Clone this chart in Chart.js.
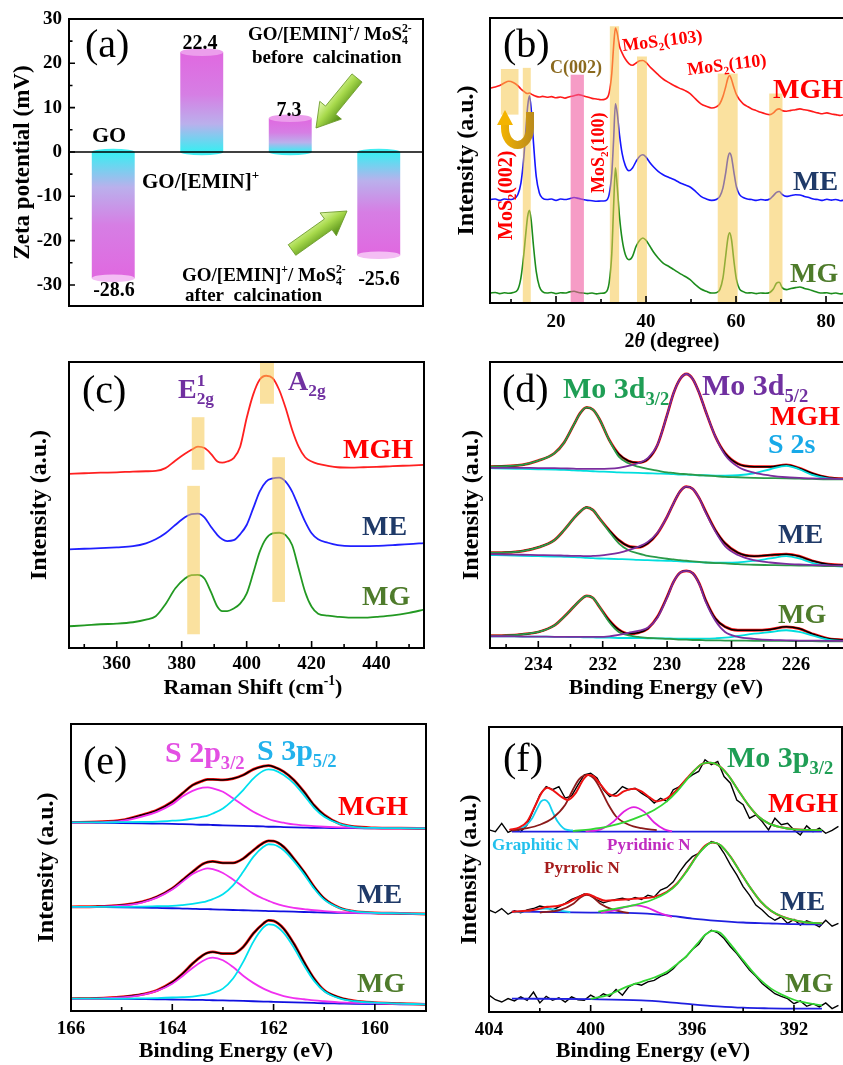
<!DOCTYPE html>
<html>
<head>
<meta charset="utf-8">
<title>Zeta potential, XRD, Raman and XPS of MGH / ME / MG</title>
<script src="https://cdn.jsdelivr.net/npm/chart.js@4.4.1/dist/chart.umd.min.js"></script>
<style>
  html, body { margin: 0; padding: 0; background: #fff; }
  body { position: relative; width: 843px; height: 1065px; overflow: hidden; }
  canvas { position: absolute; }
</style>
</head>
<body>
<canvas id="panelA"></canvas>
<canvas id="panelB"></canvas>
<canvas id="panelC"></canvas>
<canvas id="panelD"></canvas>
<canvas id="panelE"></canvas>
<canvas id="panelF"></canvas>
<script>
// ---------- (a) zeta potential ----------
const zetaCats = ['GO', 'GO/[EMIN]+', 'GO/[EMIN]+/MoS4 2- before calcination', 'GO/[EMIN]+/MoS4 2- after calcination'];
const zetaVals = [-28.5, 22.5, 7.6, -23.3];
const zetaText = ['-28.6', '22.4', '7.3', '-25.6'];
const zetaTicks = [-30, -20, -10, 0, 10, 20, 30];
const zetaMinor = [-25, -15, -5, 5, 15, 25];

// ---------- (b) XRD ----------
const xrdX = [5.4, 6.5, 7.5, 8.5, 9.5, 10.5, 11.5, 12.2, 12.8, 13.3,
  13.7, 14.1, 14.5, 15.0, 15.6, 16.3, 17.0, 18, 19, 20,
  21, 22, 23, 24, 25, 26, 27, 28, 29, 30,
  31, 31.8, 32.4, 32.8, 33.2, 33.6, 34.1, 34.7, 35.4, 36.2,
  37.0, 37.8, 38.6, 39.3, 40.0, 40.8, 41.7, 42.7, 43.8, 45,
  46.2, 47.4, 48.6, 49.8, 51, 52.2, 53.4, 54.6, 55.6, 56.4,
  57.1, 57.7, 58.2, 58.6, 59.0, 59.5, 60.1, 60.8, 61.6, 62.5,
  63.5, 64.5, 65.5, 66.5, 67.5, 68.3, 69.0, 69.6, 70.3, 71.2,
  72.2, 73.2, 74.2, 75.2, 76.2, 77.2, 78.2, 79.2, 80.2, 81.2,
  82.2, 83.2, 84.2, 85.3];
const xrdMGH = [75.4, 75.8, 76.3, 77.2, 77.8, 77.4, 76.3, 75.1, 74.3, 73.7,
  73.5, 73.7, 73.3, 72.9, 72.5, 72.3, 72.5, 72.2, 72.4, 72.0,
  72.3, 71.9, 72.4, 72.7, 73.1, 72.7, 72.3, 71.8, 71.6, 71.3,
  71.6, 73.7, 80.7, 90.1, 96.5, 94.7, 90.1, 87.7, 85.6, 84.0,
  83.4, 84.2, 85.0, 85.1, 84.4, 83.0, 81.6, 80.1, 78.6, 77.4,
  76.3, 75.4, 74.6, 73.5, 71.6, 69.9, 69.0, 68.4, 68.8, 69.9,
  72.5, 75.8, 78.9, 79.8, 78.4, 75.8, 73.1, 71.3, 69.9, 69.0,
  68.1, 67.5, 66.9, 66.4, 66.1, 66.7, 67.8, 68.1, 67.5, 67.3,
  67.6, 67.8, 68.1, 67.8, 67.5, 67.1, 66.7, 66.4, 66.7, 66.3,
  66.1, 65.8, 66.1, 65.7];
const xrdME = [36.3, 36.5, 36.0, 36.5, 36.3, 36.5, 38.0, 42.1, 50.3, 60.8,
  69.0, 72.7, 67.8, 56.1, 44.4, 38.6, 36.8, 36.3, 36.5, 36.0,
  36.5, 36.3, 36.6, 37.0, 36.7, 36.3, 36.0, 35.9, 35.7, 35.8,
  35.9, 38.0, 45.6, 57.3, 69.9, 66.7, 59.1, 52.4, 48.2, 46.4,
  47.4, 49.7, 51.5, 52.0, 51.2, 49.4, 47.7, 46.2, 45.0, 44.1,
  43.3, 42.3, 41.5, 40.7, 39.2, 37.4, 36.5, 36.0, 36.3, 37.4,
  40.4, 45.6, 50.9, 52.6, 51.2, 46.2, 40.7, 38.0, 37.0, 36.5,
  36.3, 36.0, 36.3, 36.1, 36.5, 37.7, 38.8, 39.1, 38.0, 37.4,
  37.7, 38.0, 37.9, 37.4, 37.0, 36.5, 36.3, 36.0, 36.4, 36.1,
  36.3, 35.9, 36.1, 36.0];
const xrdMG = [3.5, 3.7, 3.3, 3.6, 3.4, 3.7, 4.7, 8.8, 16.4, 24.6,
  30.4, 32.5, 28.7, 19.9, 11.1, 5.8, 4.0, 3.5, 3.7, 3.3,
  3.6, 3.5, 3.9, 4.1, 3.7, 3.5, 3.3, 3.5, 3.2, 3.4,
  3.7, 7.0, 17.5, 33.9, 47.4, 40.9, 30.4, 22.2, 17.0, 15.2,
  16.4, 19.9, 22.0, 22.8, 22.0, 20.1, 17.8, 15.8, 14.0, 12.9,
  11.7, 10.5, 9.4, 8.2, 6.4, 4.9, 4.1, 3.5, 3.6, 4.7,
  8.8, 16.4, 22.8, 24.6, 22.2, 15.2, 8.2, 4.9, 4.0, 3.5,
  3.6, 3.3, 3.5, 3.4, 3.7, 4.9, 7.0, 7.3, 5.3, 4.7,
  5.1, 5.4, 5.6, 5.1, 4.7, 4.2, 3.7, 3.5, 3.6, 3.3,
  3.5, 3.2, 3.4, 3.3];
const xrdBands = [[7.75, 11.66, 66.1, 82.1], [12.62, 14.39, 0, 82.5], [31.96, 34.02, 0, 97.1],
  [38.0, 40.2, 0, 86.5], [55.94, 60.37, 0, 80.5], [67.38, 70.33, 0, 73.5]];
const xrdPink = [[23.25, 26.2, 0, 80.1]];

// ---------- (c) Raman ----------
const ramanX = [345.3, 350, 355, 360, 365, 369, 372, 375, 378, 381,
  383, 385, 387, 389, 391, 392.5, 394, 396, 398, 400,
  402, 404, 406, 408, 410, 412, 414, 416, 418, 420,
  422, 425, 428, 432, 436, 440, 445, 450, 454.6];
const ramanMGH = [60.9, 61.1, 61.3, 61.4, 61.7, 61.8, 61.9, 62.9, 65.5, 67.9,
  69.3, 70.4, 69.9, 67.9, 65.2, 64.8, 65.2, 66.4, 70.4, 80.4,
  88.6, 93.8, 95.2, 94.4, 90.3, 83.9, 76.3, 70.4, 66.7, 65.2,
  64.4, 63.7, 63.2, 63.1, 63.2, 63.3, 63.6, 63.8, 64.0];
const ramanME = [34.5, 34.7, 34.9, 35.2, 35.6, 36.6, 38.0, 40.1, 43.0, 45.7,
  46.8, 47.0, 45.7, 42.4, 39.5, 38.0, 37.4, 37.7, 39.8, 43.0,
  48.8, 54.7, 58.2, 59.3, 59.6, 58.2, 54.7, 49.4, 44.2, 40.1,
  38.0, 36.8, 36.0, 35.6, 35.6, 35.7, 36.0, 36.3, 36.7];
const ramanMG = [7.6, 7.9, 8.3, 8.5, 9.0, 9.9, 11.1, 15.3, 20.8, 24.3,
  25.5, 25.6, 24.3, 19.6, 14.4, 12.9, 12.9, 13.8, 15.5, 19.0,
  26.1, 33.6, 38.3, 40.1, 40.3, 39.5, 36.0, 27.8, 19.6, 14.4,
  12.0, 11.3, 10.9, 10.6, 10.6, 10.9, 11.4, 12.3, 13.4];
const ramanBands = [[383.1, 387.0, 62.3, 80.7], [381.7, 385.6, 4.8, 56.7], [404.1, 408.4, 85.4, 100], [407.9, 411.8, 16.1, 66.7]];

// ---------- (d) Mo 3d XPS ----------
const moX = [235.5, 235, 234.5, 234, 233.5, 233.2, 232.9, 232.7, 232.5, 232.3,
  232.1, 231.8, 231.5, 231.2, 230.9, 230.6, 230.3, 230.0, 229.8, 229.6,
  229.4, 229.2, 229.0, 228.8, 228.5, 228.2, 227.8, 227.3, 226.8, 226.3,
  225.9, 225.5, 225.0, 224.3];
const moMGH = [63.4, 63.6, 64.0, 65.5, 68.1, 71.8, 78.0, 82.1, 84.1, 83.3,
  80.0, 72.8, 67.8, 65.4, 64.8, 66.0, 71.0, 81.5, 89.1, 94.0,
  95.8, 94.0, 89.1, 82.7, 73.9, 68.1, 64.4, 63.4, 63.4, 64.0,
  62.9, 61.1, 59.6, 59.1];
const moMGH32 = [63.4, 63.6, 64.0, 65.5, 68.1, 71.8, 78.0, 82.1, 84.1, 83.3,
  80.0, 72.8, 66.9, 64.6, 63.4, 62.6, 62.0, 61.4, 61.2, 60.9,
  60.8, 60.6, 60.4, 60.3, 60.1, 59.8, 59.7, 59.5, 59.4, 59.3,
  59.2, 59.1, 59.0, 59.0];
const moMGH52 = [63.0, 63.0, 63.0, 62.9, 62.9, 62.8, 62.7, 62.6, 62.6, 62.6,
  62.6, 62.7, 63.0, 63.7, 64.6, 66.4, 71.0, 81.5, 89.1, 94.0,
  95.8, 94.0, 89.1, 82.7, 73.9, 67.5, 63.4, 61.3, 60.3, 59.7,
  59.5, 59.3, 59.2, 59.0];
const moMGHs = [62.9, 62.7, 62.6, 62.5, 62.4, 62.3, 62.1, 62.0, 61.9, 61.8,
  61.7, 61.6, 61.4, 61.3, 61.2, 61.1, 61.0, 60.9, 60.8, 60.6,
  60.6, 60.5, 60.4, 60.4, 60.3, 60.3, 60.4, 61.1, 62.5, 63.7,
  62.5, 60.5, 59.3, 59.0];
const moME = [33.3, 33.4, 33.9, 35.2, 37.7, 41.2, 45.3, 47.7, 49.2, 48.2,
  45.3, 41.2, 37.7, 35.6, 35.2, 36.6, 40.1, 45.9, 50.6, 54.7,
  56.4, 55.6, 52.3, 47.7, 41.2, 36.6, 33.3, 32.1, 32.5, 32.8,
  32.1, 30.5, 29.3, 28.9];
const moME32 = [33.3, 33.4, 33.9, 35.2, 37.7, 41.2, 45.3, 47.7, 49.2, 48.2,
  45.3, 40.7, 36.6, 34.2, 33.1, 32.2, 31.7, 31.2, 31.0, 30.7,
  30.5, 30.3, 30.1, 29.9, 29.7, 29.6, 29.3, 29.1, 29.0, 28.9,
  28.8, 28.8, 28.6, 28.6];
const moME52 = [32.8, 32.7, 32.6, 32.5, 32.4, 32.3, 32.2, 32.2, 32.1, 32.2,
  32.3, 32.7, 33.3, 34.2, 35.4, 37.1, 40.3, 45.9, 50.6, 54.7,
  56.4, 55.6, 52.3, 47.3, 40.7, 35.6, 32.5, 30.7, 29.9, 29.4,
  29.2, 29.0, 28.9, 28.7];
const moMEs = [32.5, 32.4, 32.2, 32.1, 32.0, 31.9, 31.8, 31.7, 31.5, 31.4,
  31.3, 31.2, 31.1, 31.0, 30.8, 30.7, 30.6, 30.5, 30.4, 30.3,
  30.2, 30.1, 30.0, 29.9, 29.8, 29.8, 29.9, 30.5, 31.3, 32.1,
  31.3, 29.8, 28.8, 28.4];
const moMG = [4.3, 4.4, 4.8, 5.6, 7.9, 10.9, 14.4, 16.7, 18.2, 17.5,
  14.4, 9.7, 6.4, 5.0, 5.3, 6.8, 10.9, 17.9, 23.1, 26.3,
  27.0, 26.1, 22.5, 16.7, 10.3, 7.4, 6.2, 6.2, 6.5, 7.4,
  6.8, 5.0, 3.3, 2.7];
const moMG32 = [4.3, 4.4, 4.8, 5.6, 7.9, 10.9, 14.4, 16.7, 18.2, 17.5,
  14.4, 9.1, 5.6, 4.4, 3.9, 3.5, 3.4, 3.2, 3.1, 2.9,
  2.9, 2.8, 2.8, 2.7, 2.7, 2.6, 2.6, 2.5, 2.5, 2.5,
  2.4, 2.4, 2.3, 2.3];
const moMG52 = [4.1, 4.1, 4.0, 4.0, 3.9, 3.9, 3.9, 3.9, 3.9, 3.9,
  3.9, 4.1, 4.6, 5.3, 6.0, 7.1, 10.6, 17.6, 23.1, 26.3,
  27.0, 26.1, 22.3, 16.1, 9.5, 5.6, 3.9, 3.2, 2.8, 2.7,
  2.6, 2.6, 2.5, 2.5];
const moMGs = [4.1, 4.1, 4.0, 4.0, 3.9, 3.9, 3.8, 3.8, 3.7, 3.7,
  3.6, 3.6, 3.5, 3.5, 3.5, 3.4, 3.4, 3.4, 3.3, 3.3,
  3.3, 3.3, 3.3, 3.3, 3.4, 3.6, 4.2, 5.0, 5.6, 6.2,
  5.6, 4.4, 2.9, 2.3];

// ---------- (e) S 2p XPS ----------
const sX = [166, 165.5, 165, 164.6, 164.3, 164, 163.8, 163.6, 163.4, 163.3,
  163.2, 163.0, 162.8, 162.6, 162.4, 162.2, 162.1, 162.0, 161.8, 161.6,
  161.4, 161.2, 161.0, 160.7, 160.4, 160, 159.5, 159];
const sMGH = [65.7, 65.9, 66.5, 68.3, 70.0, 72.9, 75.8, 78.7, 80.2, 80.7,
  80.7, 80.5, 81.0, 82.2, 84.2, 85.3, 85.5, 85.1, 83.4, 80.5,
  76.4, 71.7, 68.3, 65.3, 64.2, 63.8, 63.7, 63.6];
const sMGH2p = [65.6, 65.7, 66.2, 67.7, 69.4, 72.0, 74.7, 76.7, 77.8, 77.9,
  77.6, 76.4, 74.1, 71.7, 69.4, 67.7, 66.9, 66.3, 65.6, 65.0,
  64.7, 64.4, 64.2, 64.0, 63.9, 63.7, 63.6, 63.6];
const sMGH3p = [65.7, 65.7, 65.8, 65.9, 66.0, 66.3, 66.5, 67.0, 67.7, 68.1,
  68.8, 70.6, 73.5, 77.0, 81.0, 83.7, 84.2, 84.0, 82.2, 79.3,
  75.2, 70.8, 67.7, 65.2, 64.1, 63.8, 63.7, 63.6];
const sMGHbg = [65.7, 65.6, 65.5, 65.4, 65.3, 65.2, 65.1, 65.0, 64.9, 64.9,
  64.8, 64.7, 64.6, 64.5, 64.4, 64.3, 64.2, 64.2, 64.1, 64.0,
  63.9, 63.8, 63.8, 63.7, 63.7, 63.6, 63.6, 63.6];
const sME = [36.3, 36.4, 36.9, 38.0, 39.8, 42.7, 45.6, 48.5, 51.2, 51.9,
  52.1, 51.6, 51.6, 53.1, 56.0, 58.6, 59.3, 59.2, 57.2, 53.1,
  48.5, 43.3, 39.2, 36.0, 34.7, 34.2, 34.0, 33.8];
const sME2p = [36.2, 36.3, 36.7, 37.8, 39.5, 42.3, 45.0, 47.7, 49.3, 49.7,
  49.4, 48.1, 45.8, 43.3, 40.9, 39.1, 38.4, 37.7, 36.6, 35.9,
  35.5, 35.1, 34.8, 34.4, 34.2, 34.1, 34.0, 33.8];
const sME3p = [36.3, 36.3, 36.3, 36.4, 36.5, 36.6, 36.9, 37.3, 37.9, 38.4,
  39.0, 40.7, 43.8, 48.5, 53.7, 57.2, 58.1, 58.0, 56.0, 52.2,
  47.7, 42.7, 38.8, 35.9, 34.7, 34.2, 34.0, 33.8];
const sMEbg = [36.3, 36.2, 36.1, 36.0, 35.9, 35.8, 35.7, 35.6, 35.5, 35.5,
  35.4, 35.3, 35.2, 35.1, 35.0, 34.9, 34.8, 34.8, 34.7, 34.6,
  34.5, 34.4, 34.3, 34.2, 34.1, 34.0, 33.9, 33.8];
const sMG = [4.3, 4.4, 4.9, 5.8, 7.2, 10.1, 13.0, 16.5, 19.4, 20.3,
  20.6, 20.0, 20.0, 22.3, 27.0, 30.5, 31.6, 31.4, 28.7, 23.5,
  17.1, 11.3, 7.2, 4.7, 3.5, 2.9, 2.6, 2.3];
const sMG2p = [4.2, 4.3, 4.7, 5.6, 7.0, 9.5, 12.1, 15.0, 17.4, 18.3,
  18.6, 17.7, 15.3, 12.3, 9.8, 7.8, 7.0, 6.3, 5.2, 4.5,
  4.1, 3.7, 3.4, 3.0, 2.8, 2.7, 2.5, 2.4];
const sMG3p = [4.3, 4.3, 4.3, 4.4, 4.5, 4.7, 4.8, 5.0, 5.5, 5.8,
  6.3, 7.8, 11.3, 17.1, 24.1, 29.1, 30.2, 30.0, 27.2, 22.1,
  15.9, 10.5, 6.9, 4.4, 3.4, 2.9, 2.6, 2.3];
const sMGbg = [4.3, 4.25, 4.2, 4.15, 4.1, 4.0, 3.95, 3.9, 3.85, 3.8,
  3.75, 3.7, 3.6, 3.5, 3.4, 3.3, 3.25, 3.2, 3.1, 3.0,
  2.9, 2.8, 2.7, 2.6, 2.5, 2.4, 2.35, 2.3];

// ---------- (f) N 1s / Mo 3p XPS ----------
const nX = [404, 403.75, 403.5, 403.25, 403, 402.75, 402.5, 402.25, 402, 401.75,
  401.5, 401.25, 401, 400.75, 400.5, 400.25, 400, 399.75, 399.5, 399.25,
  399, 398.75, 398.5, 398.25, 398, 397.75, 397.5, 397.25, 397, 396.75,
  396.5, 396.25, 396, 395.75, 395.5, 395.25, 395, 394.75, 394.5, 394.25,
  394, 393.75, 393.5, 393.25, 393, 392.75, 392.5, 392.25, 392, 391.75,
  391.5, 391.25, 391, 390.75, 390.5, 390.25];
const nMGH = [63.9, 63.3, 66.2, 63.0, 64.1, 63.3, 65.7, 70.9, 76.2, 79.1,
  78.0, 79.1, 75.0, 75.8, 79.7, 83.2, 83.8, 82.1, 78.0, 75.6,
  76.8, 79.1, 78.0, 78.5, 76.8, 75.4, 73.3, 75.0, 73.9, 78.0,
  79.1, 81.5, 83.2, 84.4, 88.5, 86.8, 87.9, 82.6, 80.3, 74.4,
  72.7, 68.0, 69.2, 66.8, 63.9, 68.0, 65.7, 66.2, 63.9, 62.1,
  65.3, 63.3, 64.5, 62.7, 63.7, 65.1];
const nME = [35.8, 34.8, 36.3, 34.3, 35.5, 34.8, 35.8, 36.3, 37.2, 36.7,
  35.8, 36.9, 38.1, 39.5, 40.4, 41.4, 41.0, 39.3, 38.3, 39.0,
  39.5, 39.9, 39.3, 40.2, 39.5, 41.0, 40.4, 42.8, 43.7, 45.7,
  49.2, 52.2, 54.5, 55.7, 58.0, 59.8, 59.0, 55.7, 51.6, 48.1,
  44.0, 41.0, 37.5, 35.8, 33.6, 32.2, 33.4, 31.1, 32.5, 30.5,
  32.0, 31.1, 29.9, 32.2, 30.1, 31.1];
const nMG = [5.9, 4.3, 3.5, 4.7, 3.9, 5.3, 4.1, 7.0, 3.2, 5.5,
  4.1, 5.0, 3.5, 5.3, 4.3, 4.1, 5.9, 4.7, 6.4, 5.5,
  7.9, 5.9, 8.8, 10.0, 9.4, 10.6, 11.1, 12.5, 13.5, 15.2,
  17.6, 19.3, 21.9, 23.8, 27.0, 28.7, 27.8, 25.8, 22.9, 20.5,
  17.6, 14.7, 12.5, 10.0, 8.2, 6.4, 5.5, 4.7, 2.9, 3.9,
  2.0, 2.9, 1.8, 3.2, 1.2, 2.3];
const nFitMGHx = [403.2, 402.8, 402.5, 402.2, 401.9, 401.7, 401.5, 401.2, 400.9, 400.6,
  400.3, 400.1, 399.9, 399.6, 399.3, 399.0, 398.7, 398.3, 398.0, 397.7,
  397.4, 397.0, 396.6, 396.2, 395.9, 395.6, 395.3, 395.0, 394.6, 394.2,
  393.8, 393.4, 393.0, 392.5, 392.0, 391.5, 391.0];
const nFitMGH = [63.9, 64.8, 66.8, 72.0, 77.3, 78.7, 77.9, 75.8, 74.4, 76.7,
  81.4, 83.2, 82.8, 79.7, 76.6, 75.8, 77.4, 78.3, 77.4, 75.4,
  73.9, 75.0, 78.0, 82.1, 84.9, 87.1, 87.5, 86.7, 83.2, 77.9,
  72.7, 68.6, 66.2, 64.8, 64.1, 63.9, 63.8];
const nGraMGHx = [403.0, 402.6, 402.3, 402.1, 401.95, 401.8, 401.65, 401.5, 401.3, 401.0, 400.7];
const nGraMGH = [63.7, 65.1, 68.0, 71.5, 73.9, 74.4, 73.3, 70.3, 66.8, 64.1, 63.7];
const nPyrMGHx = [403.1, 402.5, 402.0, 401.5, 401.0, 400.7, 400.45, 400.15, 399.85, 399.6, 399.3, 399.0, 398.5, 398.0, 397.4];
const nPyrMGH = [63.7, 64.5, 65.7, 68.0, 72.7, 78.0, 81.7, 83.2, 81.7, 78.0, 72.7, 68.6, 65.7, 64.5, 63.8];
const nPydMGHx = [400.2, 399.6, 399.1, 398.7, 398.3, 397.9, 397.5, 397.1, 396.8];
const nPydMGH = [63.4, 64.1, 66.8, 70.3, 71.9, 70.3, 66.5, 64.1, 63.4];
const nMoMGHx = [400.7, 400.0, 399.3, 398.6, 398.0, 397.5, 397.0, 396.6, 396.2, 395.9,
  395.6, 395.3, 395.0, 394.6, 394.2, 393.8, 393.4, 393.0, 392.5, 392.0, 391.5, 390.9];
const nMoMGH = [63.5, 64.1, 65.1, 66.8, 68.8, 70.9, 73.9, 77.4, 81.7, 84.9,
  87.1, 87.5, 86.7, 83.2, 77.9, 72.7, 68.6, 66.2, 64.8, 64.1, 63.9, 63.8];
const nBgMGHx = [403.1, 390.9];
const nBgMGH = [63.3, 63.3];
const nFitMEx = [403.1, 402.5, 402.0, 401.7, 401.3, 400.9, 400.5, 400.15, 399.8, 399.4,
  399.0, 398.5, 398.0, 397.5, 397.0, 396.6, 396.2, 395.8, 395.5, 395.2,
  394.9, 394.5, 394.1, 393.7, 393.3, 392.9, 392.5, 392.0, 391.5, 390.9];
const nFitME = [35.2, 35.5, 36.3, 36.9, 37.2, 38.3, 40.2, 41.4, 40.2, 39.0,
  39.3, 39.6, 39.9, 40.4, 42.2, 45.1, 49.8, 55.1, 58.3, 59.5,
  58.6, 54.5, 48.9, 43.4, 38.7, 35.5, 33.6, 32.2, 31.4, 31.1];
const nGraMEx = [403.0, 402.4, 401.8, 401.2, 400.8];
const nGraME = [35.0, 35.6, 36.3, 35.6, 35.0];
const nPyrMEx = [402.0, 401.2, 400.7, 400.4, 400.15, 399.9, 399.6, 399.1, 398.5];
const nPyrME = [34.9, 35.8, 37.9, 40.2, 41.1, 40.2, 37.9, 35.8, 34.8];
const nPydMEx = [399.6, 399.0, 398.6, 398.2, 397.8, 397.3, 396.8];
const nPydME = [34.8, 35.8, 36.9, 37.4, 36.7, 34.8, 33.4];
const nMoMEx = [399.7, 399.0, 398.3, 397.6, 397.0, 396.6, 396.2, 395.8, 395.5, 395.2,
  394.9, 394.5, 394.1, 393.7, 393.3, 392.9, 392.5, 392.0, 391.5, 390.9];
const nMoME = [35.2, 36.3, 37.5, 39.3, 41.9, 44.9, 49.6, 54.9, 58.0, 59.5,
  58.6, 54.5, 48.9, 43.4, 38.7, 35.5, 33.6, 32.2, 31.4, 31.1];
const nBgMEx = [403.1, 400.0, 398.0, 397.0, 396.0, 395.0, 394.0, 393.0, 392.0, 390.9];
const nBgME = [35.2, 34.9, 34.6, 33.9, 32.8, 32.0, 31.4, 31.1, 30.8, 30.7];
const nMoMGx = [400.0, 399.3, 398.6, 398.0, 397.5, 397.0, 396.6, 396.2, 395.8, 395.5,
  395.2, 394.9, 394.5, 394.1, 393.7, 393.3, 392.9, 392.5, 392.0, 391.5, 390.9];
const nMoMG = [4.6, 6.0, 8.8, 10.6, 12.1, 14.1, 16.8, 19.9, 24.0, 27.0,
  28.5, 27.8, 23.8, 19.3, 14.9, 11.1, 8.2, 6.2, 4.3, 3.2, 2.3];
const nBgMGx = [403.1, 400.0, 398.0, 397.0, 396.0, 395.0, 394.0, 393.0, 392.0, 390.9];
const nBgMG = [4.7, 4.5, 4.1, 3.5, 2.7, 2.0, 1.5, 1.3, 1.2, 1.2];

// ---------- shared helpers ----------
const SERIF = "'Liberation Serif', 'Times New Roman', serif";
Chart.defaults.font.family = SERIF;
Chart.defaults.font.weight = 'bold';
Chart.defaults.color = '#000';
Chart.defaults.animation = false;
Chart.defaults.events = [];
Chart.defaults.plugins.legend.display = false;
Chart.defaults.plugins.tooltip.enabled = false;

const RED = '#ff0000', NAVY = '#1f3a68', OLIVE = '#4e7b2b', PURPLE = '#7030a0';
const YELLOW = 'rgba(245,200,80,0.55)', PINK = 'rgba(240,90,160,0.6)';

function pts(xs, ys) { return xs.map((x, i) => ({ x: x, y: ys[i] })); }

function ln(xs, ys, color, width, noisy) {
  return { data: pts(xs, ys), borderColor: color, borderWidth: width || 1.7, pointRadius: 0, fill: false,
    tension: 0, cubicInterpolationMode: noisy ? 'default' : 'monotone' };
}

// first line in the list ends up at the bottom
function layered(list) { return list.map((d, i) => Object.assign({}, d, { order: list.length - i })); }

// text with sub / superscripts; 'ss' = superscript stacked over the previous subscript
function rich(ctx, segs, x, y, o) {
  const size = o.size, wt = o.weight || 'bold';
  const items = [];
  let w = 0;
  segs.forEach(s => {
    const t = Array.isArray(s) ? s[0] : s, k = Array.isArray(s) ? s[1] : '';
    const small = k === 'sub' || k === 'sup' || k === 'ss';
    const sz = small ? size * 0.62 : size;
    const font = (k === 'it' ? 'italic ' : '') + wt + ' ' + sz + 'px ' + SERIF;
    ctx.font = font;
    const tw = ctx.measureText(t).width;
    let x0 = w;
    if (k === 'ss' && items.length) x0 = items[items.length - 1].x0;
    const dy = k === 'sub' ? size * 0.22 : (k === 'sup' || k === 'ss') ? -size * 0.42 : 0;
    items.push({ t: t, font: font, x0: x0, dy: dy });
    w = Math.max(w, x0 + tw);
  });
  ctx.save();
  ctx.translate(x, y);
  if (o.rot) ctx.rotate(o.rot);
  const off = o.align === 'center' ? -w / 2 : o.align === 'right' ? -w : 0;
  ctx.fillStyle = o.color || '#000';
  ctx.textAlign = 'left';
  ctx.textBaseline = 'alphabetic';
  items.forEach(it => { ctx.font = it.font; ctx.fillText(it.t, off + it.x0, it.dy); });
  ctx.restore();
}

function place(id, g) {
  const cv = document.getElementById(id);
  cv.width = g.w; cv.height = g.h;
  cv.style.left = g.left + 'px'; cv.style.top = g.top + 'px';
  cv.style.width = g.w + 'px'; cv.style.height = g.h + 'px';
  return cv;
}

function framePlugin(tk) {
  return {
    id: 'frame',
    afterDraw(chart) {
      const { ctx, chartArea: a, scales } = chart;
      ctx.save();
      ctx.strokeStyle = '#000';
      ctx.lineWidth = 1.6;
      ctx.beginPath();
      (tk.x || []).forEach(t => {
        const p = scales.x.getPixelForValue(t[0]);
        ctx.moveTo(p, a.bottom); ctx.lineTo(p, a.bottom - t[1]);
      });
      (tk.y || []).forEach(t => {
        const p = scales.y.getPixelForValue(t[0]);
        ctx.moveTo(a.left, p); ctx.lineTo(a.left + t[1], p);
      });
      ctx.stroke();
      ctx.lineWidth = 2;
      ctx.strokeRect(a.left, a.top, a.right - a.left, a.bottom - a.top);
      ctx.restore();
    }
  };
}

function bandPlugin(bands) {
  return {
    id: 'bands',
    afterDatasetsDraw(chart) {
      const { ctx, chartArea: a, scales: { x, y } } = chart;
      ctx.save();
      ctx.beginPath(); ctx.rect(a.left, a.top, a.right - a.left, a.bottom - a.top); ctx.clip();
      bands.forEach(b => {
        const x0 = x.getPixelForValue(b[0]), x1 = x.getPixelForValue(b[1]);
        const y0 = y.getPixelForValue(b[2]), y1 = y.getPixelForValue(b[3]);
        ctx.fillStyle = b[4];
        ctx.fillRect(Math.min(x0, x1), Math.min(y0, y1), Math.abs(x1 - x0), Math.abs(y1 - y0));
      });
      ctx.restore();
    }
  };
}

// notes are given in page coordinates
function notesPlugin(g, notes, extra) {
  return {
    id: 'notes',
    afterDraw(chart) {
      const ctx = chart.ctx;
      ctx.save();
      ctx.translate(-g.left, -g.top);
      if (extra) extra(ctx);
      notes.forEach(n => rich(ctx, n.t, n.x, n.y, n));
      ctx.restore();
    }
  };
}

function linePanel(id, g, p) {
  const cv = place(id, g);
  const ticks = p.major.map(v => [v, 7]).concat(p.minor.map(v => [v, 4]));
  return new Chart(cv, {
    type: 'line',
    data: { datasets: layered(p.lines) },
    options: {
      responsive: false,
      layout: { padding: { top: g.T - g.top, right: g.left + g.w - g.R, left: 0, bottom: 0 } },
      scales: {
        x: {
          type: 'linear', min: p.min, max: p.max, reverse: !!p.reverse,
          grid: { display: false, drawTicks: false }, border: { display: false },
          ticks: { font: { size: 19, weight: 'bold', lineHeight: 1 }, padding: p.tickPad, maxRotation: 0, autoSkip: false },
          afterBuildTicks: s => { s.ticks = p.major.map(v => ({ value: v })); },
          afterFit: s => { s.height = g.top + g.h - g.B; }
        },
        y: {
          min: 0, max: 100,
          grid: { display: false, drawTicks: false }, border: { display: false },
          ticks: { display: false },
          title: { display: true, text: 'Intensity (a.u.)', font: { size: 24, weight: 'bold', lineHeight: 1 }, padding: { top: p.titlePad, bottom: 0 } },
          afterFit: s => { s.width = g.L - g.left; }
        }
      }
    },
    plugins: [bandPlugin(p.bands || []), framePlugin({ x: ticks }), notesPlugin(g, p.notes, p.extra)]
  });
}

// ---------- (a) ----------
function barFill(c) {
  const chart = c.chart;
  if (!chart.chartArea || c.raw === undefined) return 'rgb(214,128,228)';
  const y = chart.scales.y;
  const y0 = y.getPixelForValue(0), y1 = y.getPixelForValue(c.raw);
  const gr = chart.ctx.createLinearGradient(0, y1, 0, y0);
  gr.addColorStop(0, 'rgb(224,104,224)');
  gr.addColorStop(0.42, 'rgb(214,126,228)');
  gr.addColorStop(0.72, 'rgb(186,176,236)');
  gr.addColorStop(1, 'rgb(56,238,242)');
  return gr;
}

const cylPlugin = {
  id: 'cyl',
  beforeDatasetsDraw(chart) {
    const ctx = chart.ctx;
    chart.getDatasetMeta(0).data.forEach(b => {
      ctx.save();
      ctx.fillStyle = 'rgb(64,238,242)';
      ctx.beginPath(); ctx.ellipse(b.x, b.base, b.width / 2, 3.2, 0, 0, Math.PI * 2); ctx.fill();
      ctx.restore();
    });
  },
  afterDatasetsDraw(chart) {
    const { ctx, chartArea: a, scales: { y } } = chart;
    chart.getDatasetMeta(0).data.forEach((b, i) => {
      ctx.save();
      ctx.fillStyle = zetaVals[i] > 0 ? 'rgb(236,158,236)' : 'rgb(244,190,244)';
      ctx.beginPath(); ctx.ellipse(b.x, b.y, b.width / 2, 3.8, 0, 0, Math.PI * 2); ctx.fill();
      ctx.restore();
    });
    const y0 = y.getPixelForValue(0);
    ctx.save();
    ctx.strokeStyle = '#000'; ctx.lineWidth = 1.6;
    ctx.beginPath(); ctx.moveTo(a.left, y0); ctx.lineTo(a.right, y0); ctx.stroke();
    ctx.restore();
  }
};

function arrow3d(ctx, x0, y0, x1, y1, lightUp) {
  const len = Math.hypot(x1 - x0, y1 - y0);
  ctx.save();
  ctx.translate(x0, y0);
  ctx.rotate(Math.atan2(y1 - y0, x1 - x0));
  const sw = 6.5, hw = 14, hl = 23;
  const gr = ctx.createLinearGradient(0, lightUp ? hw : -hw, 0, lightUp ? -hw : hw);
  gr.addColorStop(0, '#e6fbb4');
  gr.addColorStop(0.45, '#a8da4c');
  gr.addColorStop(1, '#4d8812');
  ctx.beginPath();
  ctx.moveTo(0, -sw); ctx.lineTo(len - hl, -sw); ctx.lineTo(len - hl, -hw); ctx.lineTo(len, 0);
  ctx.lineTo(len - hl, hw); ctx.lineTo(len - hl, sw); ctx.lineTo(0, sw); ctx.closePath();
  ctx.fillStyle = gr; ctx.fill();
  ctx.strokeStyle = '#6c9a2a'; ctx.lineWidth = 0.8; ctx.stroke();
  ctx.restore();
}

const gA = { left: 0, top: 0, w: 440, h: 330, L: 69, T: 19, R: 423, B: 306 };
const mos = ['GO/[EMIN]', ['+', 'sup'], '/ MoS', ['4', 'sub'], ['2-', 'ss']];
const notesA = [
  { t: ['(a)'], x: 85, y: 57, size: 40, weight: 'normal' },
  { t: ['GO'], x: 109, y: 142, size: 22, align: 'center' },
  { t: ['GO/[EMIN]', ['+', 'sup']], x: 142, y: 188, size: 21 },
  { t: mos, x: 248, y: 40, size: 19 },
  { t: ['before  calcination'], x: 252, y: 63, size: 19 },
  { t: mos, x: 182, y: 281, size: 19 },
  { t: ['after  calcination'], x: 185, y: 301, size: 19 },
  { t: [zetaText[0]], x: 114, y: 296, size: 20, align: 'center' },
  { t: [zetaText[1]], x: 200, y: 49, size: 20, align: 'center' },
  { t: [zetaText[2]], x: 289, y: 116, size: 20, align: 'center' },
  { t: [zetaText[3]], x: 379, y: 285, size: 20, align: 'center' }
];
new Chart(place('panelA', gA), {
  type: 'bar',
  data: {
    labels: zetaCats,
    datasets: [{ data: zetaVals, backgroundColor: barFill, borderWidth: 0, barPercentage: 0.485, categoryPercentage: 1 }]
  },
  options: {
    responsive: false,
    layout: { padding: { top: gA.T - gA.top, right: gA.left + gA.w - gA.R, bottom: gA.top + gA.h - gA.B, left: 0 } },
    scales: {
      x: { display: false },
      y: {
        min: -34.75, max: 30,
        grid: { display: false, drawTicks: false }, border: { display: false },
        afterBuildTicks: s => { s.ticks = zetaTicks.map(v => ({ value: v })); },
        ticks: { font: { size: 19, weight: 'bold', lineHeight: 1 }, padding: 7 },
        title: { display: true, text: 'Zeta potential (mV)', font: { size: 23, weight: 'bold', lineHeight: 1 }, padding: { top: 11.5, bottom: 0 } },
        afterFit: s => { s.width = gA.L - gA.left; }
      }
    }
  },
  plugins: [cylPlugin,
    framePlugin({ y: zetaTicks.map(v => [v, 6]).concat(zetaMinor.map(v => [v, 3.5])) }),
    notesPlugin(gA, notesA, ctx => {
      arrow3d(ctx, 357, 78, 316, 128, true);
      arrow3d(ctx, 292, 250, 347, 211, false);
    })]
});

// ---------- (b) ----------
const gB = { left: 440, top: 0, w: 410, h: 352, L: 490, T: 18, R: 850, B: 303 };
linePanel('panelB', gB, {
  min: 5.33, max: 85.33, major: [20, 40, 60, 80], minor: [10, 30, 50, 70], tickPad: 9.5, titlePad: 15,
  lines: [ln(xrdX, xrdMG, '#1c8c1c', 1.6), ln(xrdX, xrdME, '#1515ff', 1.6), ln(xrdX, xrdMGH, '#ff1a1a', 1.6)],
  bands: xrdBands.map(b => b.concat([YELLOW])).concat(xrdPink.map(b => b.concat([PINK]))),
  notes: [
    { t: ['(b)'], x: 503, y: 57, size: 40, weight: 'normal' },
    { t: ['C(002)'], x: 550, y: 73, size: 18, color: '#8b6a1f' },
    { t: ['MoS', ['2', 'sub'], '(103)'], x: 623, y: 51, size: 18, color: RED, rot: -0.12 },
    { t: ['MoS', ['2', 'sub'], '(110)'], x: 688, y: 75, size: 18, color: RED, rot: -0.12 },
    { t: ['MoS', ['2', 'sub'], '(002)'], x: 512, y: 240, size: 20, color: RED, rot: -Math.PI / 2 },
    { t: ['MoS', ['2', 'sub'], '(100)'], x: 604, y: 193, size: 18, color: RED, rot: -Math.PI / 2 },
    { t: ['MGH'], x: 773, y: 98, size: 28, color: RED },
    { t: ['ME'], x: 793, y: 190, size: 28, color: NAVY },
    { t: ['MG'], x: 790, y: 282, size: 28, color: OLIVE },
    { t: ['2', ['θ', 'it'], ' (degree)'], x: 672, y: 347, size: 20, align: 'center' }
  ],
  extra: ctx => {
    // orange turn-around arrow
    ctx.save();
    const gr = ctx.createLinearGradient(500, 0, 534, 0);
    gr.addColorStop(0, '#f4b400'); gr.addColorStop(1, '#b98a1c');
    ctx.strokeStyle = gr; ctx.lineWidth = 8; ctx.lineCap = 'butt';
    ctx.beginPath();
    ctx.moveTo(530, 112); ctx.lineTo(530, 128);
    ctx.ellipse(517.5, 128, 12.5, 17, 0, 0, Math.PI, false);
    ctx.lineTo(505, 124);
    ctx.stroke();
    ctx.fillStyle = '#f4b400';
    ctx.beginPath(); ctx.moveTo(497, 125); ctx.lineTo(513, 125); ctx.lineTo(505, 110); ctx.closePath(); ctx.fill();
    ctx.restore();
  }
});

// ---------- (c) ----------
const gC = { left: 0, top: 335, w: 440, h: 365, L: 69, T: 362, R: 424, B: 648 };
linePanel('panelC', gC, {
  min: 345.3, max: 454.6, major: [360, 380, 400, 420, 440], minor: [350, 370, 390, 410, 430, 450], tickPad: 6.5, titlePad: 28,
  lines: [ln(ramanX, ramanMG, '#229922', 1.8), ln(ramanX, ramanME, '#2020ff', 1.8), ln(ramanX, ramanMGH, '#ff2020', 1.8)],
  bands: ramanBands.map(b => b.concat([YELLOW])),
  notes: [
    { t: ['(c)'], x: 82, y: 403, size: 40, weight: 'normal' },
    { t: ['E', ['2g', 'sub'], ['1', 'ss']], x: 178, y: 398, size: 28, color: PURPLE },
    { t: ['A', ['2g', 'sub']], x: 288, y: 390, size: 28, color: PURPLE },
    { t: ['MGH'], x: 343, y: 458, size: 28, color: RED },
    { t: ['ME'], x: 362, y: 535, size: 28, color: NAVY },
    { t: ['MG'], x: 362, y: 605, size: 28, color: OLIVE },
    { t: ['Raman Shift (cm', ['-1', 'sup'], ')'], x: 253, y: 694, size: 22, align: 'center' }
  ]
});

// ---------- (d) ----------
const gD = { left: 440, top: 335, w: 410, h: 365, L: 490, T: 362, R: 850, B: 648 };
const D_GREEN = '#2a9a48', D_PURPLE = '#7b2d9e', D_CYAN = '#00dede';
linePanel('panelD', gD, {
  min: 224.32, max: 235.5, reverse: true, major: [234, 232, 230, 228, 226], minor: [235, 233, 231, 229, 227, 225], tickPad: 7.5, titlePad: 19.7,
  lines: [
    ln(moX, moMGH, '#ff1010', 2.8), ln(moX, moMGH, '#000', 1.5), ln(moX, moMGHs, D_CYAN, 1.8), ln(moX, moMGH32, D_GREEN, 1.8), ln(moX, moMGH52, D_PURPLE, 1.8),
    ln(moX, moME, '#ff1010', 2.8), ln(moX, moME, '#000', 1.5), ln(moX, moMEs, D_CYAN, 1.8), ln(moX, moME32, D_GREEN, 1.8), ln(moX, moME52, D_PURPLE, 1.8),
    ln(moX, moMG, '#ff1010', 2.8), ln(moX, moMG, '#000', 1.5), ln(moX, moMGs, D_CYAN, 1.8), ln(moX, moMG32, D_GREEN, 1.8), ln(moX, moMG52, D_PURPLE, 1.8)
  ],
  notes: [
    { t: ['(d)'], x: 502, y: 402, size: 40, weight: 'normal' },
    { t: ['Mo 3d', ['3/2', 'sub']], x: 563, y: 398, size: 30, color: '#1f9e55' },
    { t: ['Mo 3d', ['5/2', 'sub']], x: 702, y: 395, size: 30, color: PURPLE },
    { t: ['MGH'], x: 770, y: 425, size: 28, color: RED },
    { t: ['S 2s'], x: 768, y: 453, size: 28, color: '#17a9e8' },
    { t: ['ME'], x: 778, y: 543, size: 28, color: NAVY },
    { t: ['MG'], x: 778, y: 623, size: 28, color: OLIVE },
    { t: ['Binding Energy (eV)'], x: 666, y: 694, size: 22, align: 'center' }
  ]
});

// ---------- (e) ----------
const gE = { left: 0, top: 700, w: 440, h: 365, L: 71, T: 724, R: 426, B: 1011 };
const E_MAG = '#f030f0', E_CYAN = '#00e0ee', E_BLUE = '#1010e0';
linePanel('panelE', gE, {
  min: 158.99, max: 166, reverse: true, major: [166, 164, 162, 160], minor: [165, 163, 161], tickPad: 8.5, titlePad: 35,
  lines: [
    ln(sX, sMGHbg, E_BLUE, 1.8), ln(sX, sMGH, '#ff1010', 2.8), ln(sX, sMGH, '#000', 1.5), ln(sX, sMGH2p, E_MAG, 1.8), ln(sX, sMGH3p, E_CYAN, 1.8),
    ln(sX, sMEbg, E_BLUE, 1.8), ln(sX, sME, '#ff1010', 2.8), ln(sX, sME, '#000', 1.5), ln(sX, sME2p, E_MAG, 1.8), ln(sX, sME3p, E_CYAN, 1.8),
    ln(sX, sMGbg, E_BLUE, 1.8), ln(sX, sMG, '#ff1010', 2.8), ln(sX, sMG, '#000', 1.5), ln(sX, sMG2p, E_MAG, 1.8), ln(sX, sMG3p, E_CYAN, 1.8)
  ],
  notes: [
    { t: ['(e)'], x: 83, y: 774, size: 40, weight: 'normal' },
    { t: ['S 2p', ['3/2', 'sub']], x: 165, y: 762, size: 30, color: '#e34fe3' },
    { t: ['S 3p', ['5/2', 'sub']], x: 257, y: 760, size: 30, color: '#22b2ec' },
    { t: ['MGH'], x: 338, y: 815, size: 28, color: RED },
    { t: ['ME'], x: 357, y: 903, size: 28, color: NAVY },
    { t: ['MG'], x: 357, y: 992, size: 28, color: OLIVE },
    { t: ['Binding Energy (eV)'], x: 236, y: 1057, size: 22, align: 'center' }
  ]
});

// ---------- (f) ----------
const gF = { left: 440, top: 700, w: 403, h: 365, L: 489, T: 727, R: 842, B: 1012 };
const F_CYAN = '#16d0ef', F_BROWN = '#8b1a1a', F_MAG = '#e020e0', F_GREEN = '#33d633', F_BLUE = '#1f1fe0', F_RED = '#ee1111';
linePanel('panelF', gF, {
  min: 390.11, max: 404, reverse: true, major: [404, 400, 396, 392], minor: [402, 398, 394], tickPad: 8.5, titlePad: 18,
  lines: [
    ln(nX, nMGH, '#000', 1.4, true), ln(nBgMGHx, nBgMGH, F_BLUE, 1.8), ln(nGraMGHx, nGraMGH, F_CYAN, 1.8), ln(nPyrMGHx, nPyrMGH, F_BROWN, 1.8),
    ln(nPydMGHx, nPydMGH, F_MAG, 1.8), ln(nFitMGHx, nFitMGH, F_RED, 2), ln(nMoMGHx, nMoMGH, F_GREEN, 1.8),
    ln(nX, nME, '#000', 1.4, true), ln(nBgMEx, nBgME, F_BLUE, 1.8), ln(nGraMEx, nGraME, F_CYAN, 1.8), ln(nPyrMEx, nPyrME, F_BROWN, 1.8),
    ln(nPydMEx, nPydME, F_MAG, 1.8), ln(nFitMEx, nFitME, F_RED, 2), ln(nMoMEx, nMoME, F_GREEN, 1.8),
    ln(nX, nMG, '#000', 1.4, true), ln(nBgMGx, nBgMG, F_BLUE, 1.8), ln(nMoMGx, nMoMG, F_GREEN, 1.8)
  ],
  notes: [
    { t: ['(f)'], x: 503, y: 771, size: 40, weight: 'normal' },
    { t: ['Mo 3p', ['3/2', 'sub']], x: 727, y: 767, size: 30, color: '#1f9e55' },
    { t: ['MGH'], x: 768, y: 812, size: 28, color: RED },
    { t: ['Graphitic N'], x: 492, y: 850, size: 17, color: '#22c0ec' },
    { t: ['Pyridinic N'], x: 607, y: 850, size: 17, color: '#c02cc0' },
    { t: ['Pyrrolic N'], x: 544, y: 873, size: 17, color: '#a51c1c' },
    { t: ['ME'], x: 780, y: 910, size: 28, color: NAVY },
    { t: ['MG'], x: 785, y: 992, size: 28, color: OLIVE },
    { t: ['Binding Energy (eV)'], x: 653, y: 1057, size: 22, align: 'center' }
  ]
});
</script>
</body>
</html>
